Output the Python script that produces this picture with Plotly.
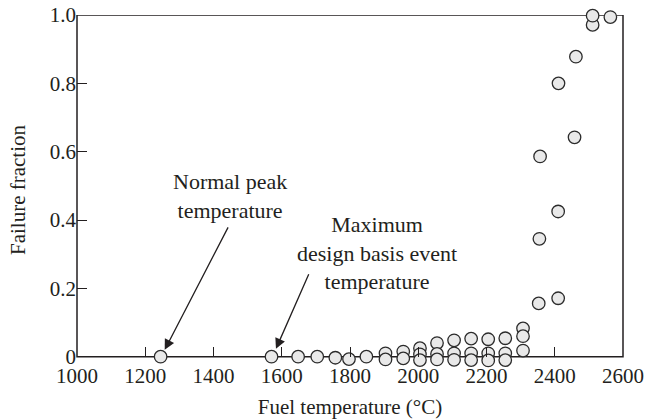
import plotly.graph_objects as go

# Data
fuel_temp = [1245, 1570, 1648, 1704, 1757, 1797, 1848,
             1904, 1904, 1956, 1956,
             2005, 2005, 2005, 2055, 2055, 2055,
             2105, 2105, 2105, 2155, 2155, 2155,
             2205, 2205, 2205, 2255, 2255, 2255,
             2307, 2307, 2307,
             2353, 2355, 2357, 2410, 2410, 2411,
             2458, 2462, 2511, 2511, 2563]
failure_fraction = [0.0, 0.0, 0.0, 0.0, -0.003, -0.007, 0.0,
                    0.010, -0.008, 0.015, -0.005,
                    0.025, 0.007, -0.010, 0.040, 0.008, -0.008,
                    0.048, 0.010, -0.009, 0.053, 0.010, -0.010,
                    0.051, 0.010, -0.011, 0.054, 0.010, -0.010,
                    0.083, 0.060, 0.018,
                    0.156, 0.345, 0.586, 0.171, 0.425, 0.800,
                    0.642, 0.878, 0.971, 0.998, 0.994]

x_ticks = [1000, 1200, 1400, 1600, 1800, 2000, 2200, 2400, 2600]
x_tick_labels = ["1000", "1200", "1400", "1600", "1800", "2000", "2200", "2400", "2600"]
y_ticks = [0, 0.2, 0.4, 0.6, 0.8, 1.0]
y_tick_labels = ["0", "0.2", "0.4", "0.6", "0.8", "1.0"]

label_normal = "Normal peak<br>temperature"
label_max = "Maximum<br>design basis event<br>temperature"

FONT = "Liberation Serif"
INK = "#231f20"

# Layout geometry (pixels)
W, H = 647, 420
M_L, M_R, M_T, M_B = 77, 24, 15, 55
PLOT_H = H - M_T - M_B
BELOW = 8.3                       # room under the frame for jittered markers
frame_h = PLOT_H - BELOW
y_min = -BELOW / frame_h          # axis range reaches a little below 0
x_axis_pos = BELOW / PLOT_H       # x axis sits at failure fraction 0

fig = go.Figure()
fig.add_trace(go.Scatter(
    x=fuel_temp, y=failure_fraction, mode="markers",
    marker=dict(symbol="circle", size=12.5, color="#e9e9e9",
                line=dict(color="#2b2b2b", width=1.3)),
    cliponaxis=False, showlegend=False,
))

# frame box from 0 to 1 on the y axis, full width
fig.add_shape(type="rect", xref="x domain", yref="y", x0=0, x1=1, y0=0, y1=1,
              line=dict(color=INK, width=1.5), fillcolor="rgba(0,0,0,0)", layer="below")

fig.add_annotation(x=1447, y=0.47, text=label_normal, showarrow=False,
                   font=dict(family=FONT, size=22, color=INK), align="center")
fig.add_annotation(x=1878, y=0.303, text=label_max, showarrow=False,
                   font=dict(family=FONT, size=22, color=INK), align="center")

for (hx, hy, tx, ty) in [(1257, 0.02, 1445, 0.383), (1583, 0.023, 1681, 0.246)]:
    fig.add_annotation(x=hx, y=hy, ax=tx, ay=ty, axref="x", ayref="y",
                       xref="x", yref="y", text="", showarrow=True,
                       arrowhead=2, arrowsize=1.6, arrowwidth=1.3,
                       arrowcolor=INK, standoff=0)

fig.update_layout(
    width=W, height=H,
    margin=dict(l=M_L, r=M_R, t=M_T, b=M_B),
    paper_bgcolor="white", plot_bgcolor="white",
    font=dict(family=FONT, size=21, color=INK),
    xaxis=dict(range=[1000, 2600], tickvals=x_ticks, ticktext=x_tick_labels,
               anchor="free", position=x_axis_pos,
               ticks="inside", ticklen=10, tickwidth=1.3, tickcolor=INK,
               ticklabelstandoff=4,
               showline=False, showgrid=False, zeroline=False, automargin=False,
               title=dict(text="Fuel temperature (°C)", standoff=12,
                          font=dict(family=FONT, size=21, color=INK))),
    yaxis=dict(range=[y_min, 1.0], tickvals=y_ticks, ticktext=y_tick_labels,
               ticks="inside", ticklen=10, tickwidth=1.3, tickcolor=INK,
               showline=False, showgrid=False, zeroline=False, automargin=False,
               title=dict(text="Failure fraction", standoff=18,
                          font=dict(family=FONT, size=21, color=INK))),
)

fig.write_html("out.html", config={"displayModeBar": False},
               post_script="document.body.style.margin='0';document.body.style.overflow='hidden';")
